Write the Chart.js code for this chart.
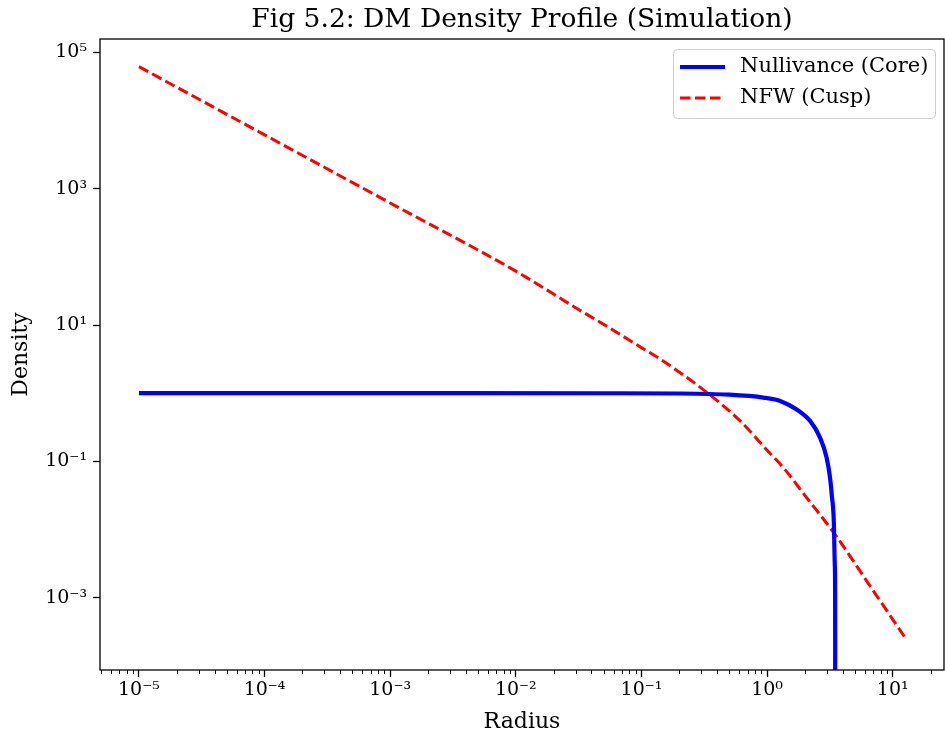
<!DOCTYPE html>
<html lang="en">
<head>
<meta charset="UTF-8">
<title>Fig 5.2: DM Density Profile (Simulation)</title>
<style>
    html, body {
        margin: 0;
        padding: 0;
        background: #fff;
    }
    #chart-container {
        width: 945px;
        height: 736px;
    }
</style>
</head>
<body>
<div id="chart-container">
    <canvas id="densityChart"></canvas>
</div>
<script src="https://cdn.jsdelivr.net/npm/chart.js"></script>
<script>
    // values
    const coreRadius  = [1e-5, 1e-3, 0.05, 0.2, 0.5, 0.935, 1.27, 1.71, 2.20, 2.64, 2.98, 3.17, 3.27, 3.40, 3.46, 3.48, 3.49];
    const coreDensity = [1.0, 1.0, 0.999, 0.99, 0.95, 0.863, 0.771, 0.582, 0.392, 0.223, 0.113, 0.0575, 0.0327, 0.0125, 0.003, 0.0012, 0.000001];

    const nfwRadius  = [1e-5, 1e-4, 1e-3, 1e-2, 0.0316, 0.0469, 0.1, 0.141, 0.316, 0.61, 1.0, 1.35, 2.0, 3.48, 6.31, 12.9];
    const nfwDensity = [61700, 6170, 617, 61.7, 16.9, 11.0, 4.66, 3.16, 1.10, 0.392, 0.146, 0.0807, 0.0317, 0.00843, 0.00168, 0.000241];

    const xTickValues = [1e-5, 1e-4, 1e-3, 1e-2, 1e-1, 1, 10];
    const xTickLabels = ['10⁻⁵', '10⁻⁴', '10⁻³', '10⁻²', '10⁻¹', '10⁰', '10¹'];
    const yTickValues = [1e-3, 1e-1, 10, 1e3, 1e5];
    const yTickLabels = ['10⁻³', '10⁻¹', '10¹', '10³', '10⁵'];

    const xMin = 4.9e-6, xMax = 25.6;
    const yMin = 8.7e-5, yMax = 1.57e5;

    const serif = "'DejaVu Serif', serif";

    function toPoints(xs, ys) {
        return xs.map((x, i) => ({x: x, y: ys[i]}));
    }

    // box round the axes, minor x ticks and the legend
    const framePlugin = {
        id: 'framePlugin',
        afterDraw(chart) {
            const ctx = chart.ctx;
            const a = chart.chartArea;
            const xs = chart.scales.x;
            ctx.save();

            ctx.strokeStyle = '#000';
            ctx.lineWidth = 1;
            for (let e = -6; e <= 1; e++) {
                for (let m = 2; m <= 9; m++) {
                    const v = m * Math.pow(10, e);
                    if (v < xMin || v > xMax) continue;
                    const px = Math.round(xs.getPixelForValue(v)) + 0.5;
                    ctx.beginPath();
                    ctx.moveTo(px, a.bottom);
                    ctx.lineTo(px, a.bottom + 4);
                    ctx.stroke();
                }
            }

            ctx.lineWidth = 1.3;
            ctx.strokeRect(a.left, a.top, a.right - a.left, a.bottom - a.top);

            // legend, upper right
            const lx = a.right - 271, ly = a.top + 10.5, lw = 262, lh = 69;
            ctx.beginPath();
            ctx.roundRect(lx + 0.5, ly, lw, lh, 4);
            ctx.fillStyle = 'rgba(255,255,255,0.8)';
            ctx.fill();
            ctx.strokeStyle = '#cccccc';
            ctx.lineWidth = 1;
            ctx.stroke();

            ctx.font = '21px ' + serif;
            ctx.textBaseline = 'middle';
            ctx.textAlign = 'left';
            chart.data.datasets.forEach((ds, i) => {
                const yy = ly + 17.5 + i * 31;
                ctx.beginPath();
                ctx.strokeStyle = ds.borderColor;
                ctx.lineWidth = ds.borderWidth;
                ctx.setLineDash(ds.borderDash || []);
                ctx.moveTo(lx + 7, yy);
                ctx.lineTo(lx + 52, yy);
                ctx.stroke();
                ctx.setLineDash([]);
                ctx.fillStyle = '#000';
                ctx.fillText(ds.label, lx + 67, yy);
            });
            ctx.restore();
        }
    };

    const ctx = document.getElementById('densityChart').getContext('2d');
    const densityChart = new Chart(ctx, {
        type: 'line',
        data: {
            datasets: [{
                label: 'Nullivance (Core)',
                data: toPoints(coreRadius, coreDensity),
                borderColor: '#0000ff',
                borderWidth: 4.2,
                pointRadius: 0,
                fill: false,
                cubicInterpolationMode: 'monotone'
            }, {
                label: 'NFW (Cusp)',
                data: toPoints(nfwRadius, nfwDensity),
                borderColor: '#ff0000',
                borderWidth: 3,
                borderDash: [10.5, 4.5],
                pointRadius: 0,
                fill: false,
                cubicInterpolationMode: 'monotone'
            }]
        },
        options: {
            responsive: true,
            maintainAspectRatio: false,
            devicePixelRatio: 1,
            animation: false,
            layout: {
                padding: {left: 0, right: 1, top: 0, bottom: 0}
            },
            scales: {
                x: {
                    type: 'logarithmic',
                    min: xMin,
                    max: xMax,
                    afterBuildTicks: s => { s.ticks = xTickValues.map(v => ({value: v})); },
                    afterFit: s => { s.height = 66; },
                    border: {display: false},
                    grid: {
                        drawOnChartArea: false,
                        drawTicks: true,
                        tickLength: 7,
                        tickWidth: 1.3,
                        tickColor: '#000'
                    },
                    ticks: {
                        autoSkip: false,
                        maxRotation: 0,
                        padding: 2,
                        color: '#000',
                        font: {family: serif, size: 19},
                        callback: (v, i) => xTickLabels[i]
                    },
                    title: {
                        display: true,
                        text: 'Radius',
                        color: '#000',
                        font: {family: serif, size: 22},
                        padding: {top: 0, bottom: 0.5}
                    }
                },
                y: {
                    type: 'logarithmic',
                    min: yMin,
                    max: yMax,
                    afterBuildTicks: s => { s.ticks = yTickValues.map(v => ({value: v})); },
                    afterFit: s => { s.width = 100; },
                    border: {display: false},
                    grid: {
                        drawOnChartArea: false,
                        drawTicks: true,
                        tickLength: 7,
                        tickWidth: 1.3,
                        tickColor: '#000'
                    },
                    ticks: {
                        autoSkip: false,
                        padding: 6,
                        color: '#000',
                        font: {family: serif, size: 19},
                        callback: (v, i) => yTickLabels[i]
                    },
                    title: {
                        display: true,
                        text: 'Density',
                        color: '#000',
                        font: {family: serif, size: 22},
                        padding: {top: 7.8, bottom: 0}
                    }
                }
            },
            plugins: {
                legend: {display: false},
                tooltip: {enabled: false},
                title: {
                    display: true,
                    text: 'Fig 5.2: DM Density Profile (Simulation)',
                    fullSize: false,
                    color: '#000',
                    font: {family: serif, size: 26.5, weight: 'normal'},
                    padding: {top: 3.9, bottom: 3.3}
                }
            }
        },
        plugins: [framePlugin]
    });
</script>
</body>
</html>
